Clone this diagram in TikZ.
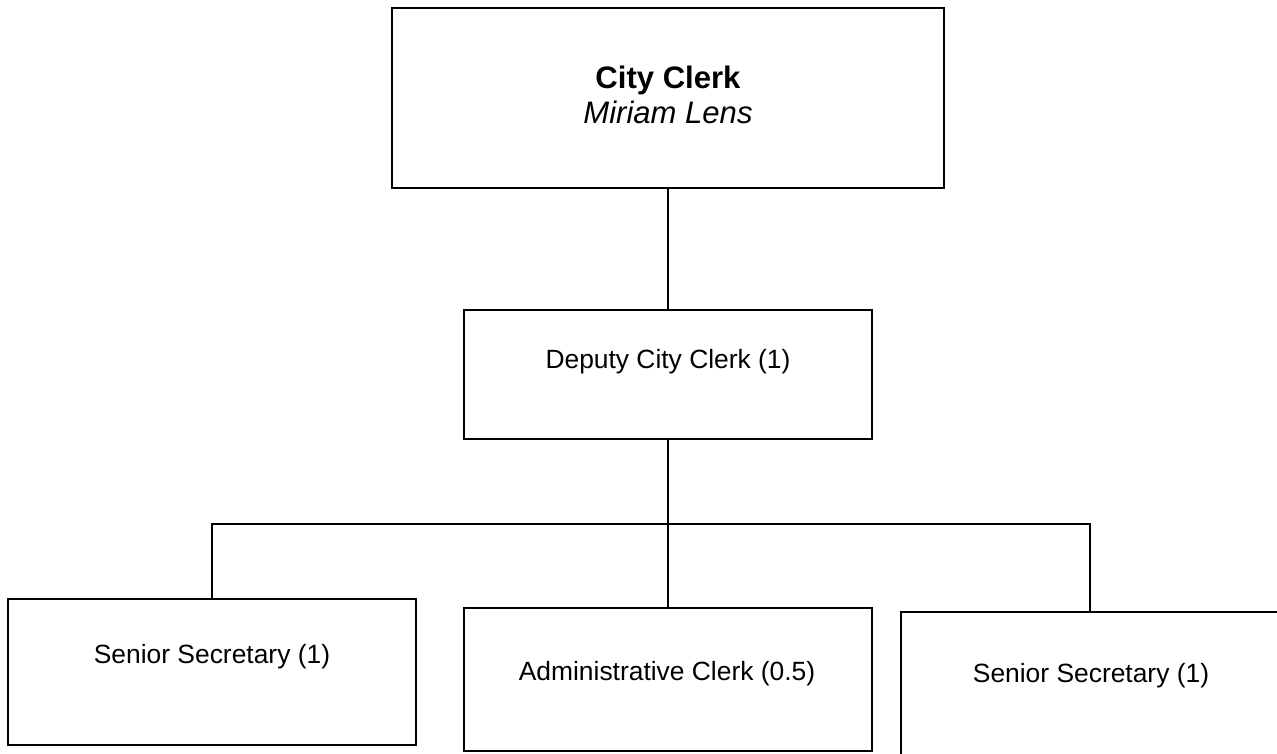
\documentclass[tikz,border=0pt]{standalone}
\usepackage{fontspec}
\setmainfont{Liberation Sans}
\begin{document}
\begin{tikzpicture}[x=0.75pt,y=-0.75pt,
  box/.style={draw=black,line width=1.3pt,fill=white,rectangle,inner sep=0pt},
  lbl/.style={anchor=base,inner sep=0pt,font=\fontsize{19.8pt}{23pt}\selectfont},
  ttl/.style={anchor=base,inner sep=0pt,font=\fontsize{23.3pt}{27pt}\selectfont\bfseries},
  nme/.style={anchor=base,inner sep=0pt,font=\fontsize{23.3pt}{27pt}\selectfont\itshape},
  link/.style={line width=1.3pt,draw=black}]
\clip (0,0) rectangle (1277,753);
\fill[white] (0,0) rectangle (1277,753);

% boxes
\node[box,minimum width=552*0.75pt,minimum height=180*0.75pt] (cc) at (668,98) {};
\node[box,minimum width=408*0.75pt,minimum height=129*0.75pt] (dep) at (668,374.5) {};
\node[box,minimum width=408*0.75pt,minimum height=146*0.75pt] (left) at (212,672) {};
\node[box,minimum width=408*0.75pt,minimum height=143*0.75pt] (mid) at (668,679.5) {};
\node[box,minimum width=378*0.75pt,minimum height=160*0.75pt] (right) at (1090,692) {};

% labels
\node[ttl] (ccTitle) at (668,88) {City Clerk};
\node[nme] (ccName) at (668,123) {Miriam Lens};
\node[lbl] (depText) at (668,368) {Deputy City Clerk (1)};
\node[lbl] (leftText) at (212,663) {Senior Secretary (1)};
\node[lbl] (midText) at (667,680) {Administrative Clerk (0.5)};
\node[lbl] (rightText) at (1091,682) {Senior Secretary (1)};

% connectors
\coordinate (bus) at (668,524);
\draw[link] (cc.south) -- (dep.north);
\draw[link] (dep.south) -- (mid.north);
\draw[link] (left.north) |- (bus) -| (right.north);
\end{tikzpicture}
\end{document}
